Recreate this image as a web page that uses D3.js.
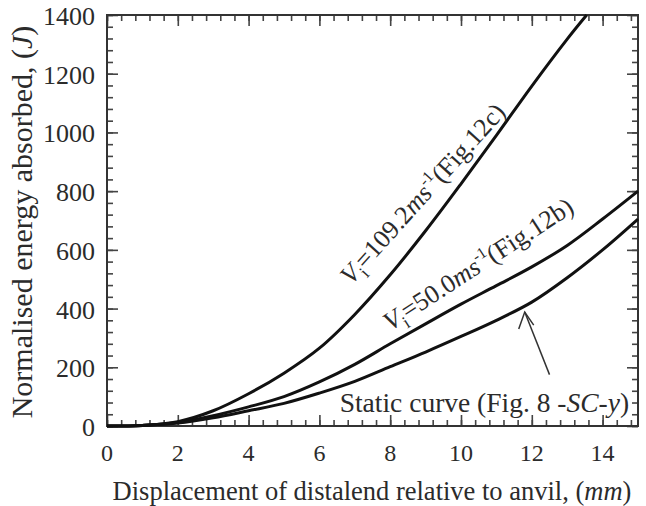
<!DOCTYPE html>
<html>
<head>
<meta charset="utf-8">
<script src="https://cdn.jsdelivr.net/npm/d3@7"></script>
<style>
  body { margin: 0; background: #fff; }
  svg text { font-family: "Liberation Serif", "Times New Roman", serif; fill: #2b2b2b; }
</style>
</head>
<body>
<div id="vis"></div>
<script>
// displacement (mm) and energy (J)
var dispFast = [0, 1, 2, 3, 4, 5, 6, 7, 8, 9, 10, 11, 12, 13, 13.55];
var energyFast = [0, 2, 15, 52, 110, 180, 265, 380, 515, 665, 825, 990, 1158, 1318, 1400];

var dispMid = [0, 1, 2, 3, 4, 5, 6, 7, 8, 9, 10, 11, 12, 13, 14, 15];
var energyMid = [0, 2, 12, 35, 65, 100, 150, 210, 280, 348, 415, 478, 542, 615, 705, 800];

var dispStatic = [0, 1, 2, 3, 4, 5, 6, 7, 8, 9, 10, 11, 12, 13, 14, 15];
var energyStatic = [0, 2, 10, 28, 52, 77, 112, 152, 202, 252, 305, 360, 422, 505, 600, 705];

var xTicks = [0, 2, 4, 6, 8, 10, 12, 14];
var yTicks = [0, 200, 400, 600, 800, 1000, 1200, 1400];

var width = 646, height = 506;
var margin = { top: 15, left: 107, bottom: 80, right: 8 };
var w = width - margin.left - margin.right;
var h = height - margin.top - margin.bottom;

var svg = d3.select('#vis').append('svg')
  .attr('width', width)
  .attr('height', height);

var g = svg.append('g')
  .attr('transform', 'translate(' + margin.left + ',' + margin.top + ')');

var x = d3.scaleLinear().domain([0, 15]).range([0, w]);
var y = d3.scaleLinear().domain([0, 1400]).range([h, 0]);

// minor ticks every 0.4 mm / 40 J, major every 2 mm / 200 J
var xMinor = d3.range(0, 15.001, 0.4);
var yMinor = d3.range(0, 1400.001, 40);

function tickAxis(axisFn, scale, ticks, size) {
  return axisFn(scale).tickValues(ticks).tickSize(size).tickFormat('');
}

// inward pointing ticks on all four sides
g.append('g').attr('transform', 'translate(0,' + h + ')')
  .call(tickAxis(d3.axisTop, x, xMinor, 6));
g.append('g').attr('transform', 'translate(0,' + h + ')')
  .call(tickAxis(d3.axisTop, x, xTicks, 11));
g.append('g')
  .call(tickAxis(d3.axisBottom, x, xMinor, 6));
g.append('g')
  .call(tickAxis(d3.axisBottom, x, xTicks, 11));
g.append('g')
  .call(tickAxis(d3.axisRight, y, yMinor, 6));
g.append('g')
  .call(tickAxis(d3.axisRight, y, yTicks, 11));
g.append('g').attr('transform', 'translate(' + w + ',0)')
  .call(tickAxis(d3.axisLeft, y, yMinor, 6));
g.append('g').attr('transform', 'translate(' + w + ',0)')
  .call(tickAxis(d3.axisLeft, y, yTicks, 11));

g.selectAll('.domain').remove();
g.selectAll('.tick line').attr('stroke', '#444').attr('stroke-width', 1.6);

// frame
g.append('rect')
  .attr('width', w).attr('height', h)
  .attr('fill', 'none')
  .attr('stroke', '#333')
  .attr('stroke-width', 2);

// tick labels
g.selectAll('.xlab').data(xTicks).enter().append('text')
  .attr('class', 'xlab')
  .attr('x', function (d) { return x(d); })
  .attr('y', h + 35)
  .attr('text-anchor', 'middle')
  .style('font-size', '24px')
  .text(function (d) { return d; });

g.selectAll('.ylab').data(yTicks).enter().append('text')
  .attr('class', 'ylab')
  .attr('x', -12)
  .attr('y', function (d) { return y(d) + 10; })
  .attr('text-anchor', 'end')
  .style('font-size', '26px')
  .text(function (d) { return d; });

// axis titles
var xTitle = svg.append('text')
  .attr('x', 372)
  .attr('y', 500)
  .attr('text-anchor', 'middle')
  .style('font-size', '26.5px');
xTitle.append('tspan').text('Displacement of distalend relative to anvil, (');
xTitle.append('tspan').style('font-style', 'italic').text('mm');
xTitle.append('tspan').text(')');

var yTitle = svg.append('text')
  .attr('transform', 'translate(32,' + 222 + ') rotate(-90)')
  .attr('text-anchor', 'middle')
  .style('font-size', '30px');
yTitle.append('tspan').text('Normalised energy absorbed, (');
yTitle.append('tspan').style('font-style', 'italic').text('J');
yTitle.append('tspan').text(')');

// curves
var line = d3.line()
  .x(function (d) { return x(d[0]); })
  .y(function (d) { return y(d[1]); })
  .curve(d3.curveCatmullRom.alpha(0.5));

var series = [
  d3.zip(dispFast, energyFast),
  d3.zip(dispMid, energyMid),
  d3.zip(dispStatic, energyStatic)
];

g.selectAll('.curve').data(series).enter().append('path')
  .attr('class', 'curve')
  .attr('d', line)
  .attr('fill', 'none')
  .attr('stroke', '#111')
  .attr('stroke-width', 3);

// rotated curve labels
function speedLabel(px, py, angle, speed, fig) {
  var t = g.append('text')
    .attr('transform', 'translate(' + px + ',' + py + ') rotate(' + angle + ')')
    .style('font-size', '26px');
  t.append('tspan').style('font-style', 'italic').text('V');
  t.append('tspan').attr('dy', 7).style('font-size', '18px').text('i');
  t.append('tspan').attr('dy', -7).text('=' + speed);
  t.append('tspan').style('font-style', 'italic').text('ms');
  t.append('tspan').attr('dy', -11).style('font-size', '16px').text('-1');
  t.append('tspan').attr('dy', 11).text('(Fig.' + fig + ')');
}

speedLabel(x(6.9), y(478), -48, '109.2', '12c');
speedLabel(x(8.0), y(322), -33, '50.0', '12b');

var stat = g.append('text')
  .attr('x', x(14.75))
  .attr('y', y(48))
  .attr('text-anchor', 'end')
  .style('font-size', '27.5px');
stat.append('tspan').text('Static curve (Fig. 8 -');
stat.append('tspan').style('font-style', 'italic').text('SC-y');
stat.append('tspan').text(')');

// arrow pointing at the static curve
var ax1 = x(12.5), ay1 = y(175), ax2 = x(11.8), ay2 = y(388);
g.append('line')
  .attr('x1', ax1).attr('y1', ay1)
  .attr('x2', ax2).attr('y2', ay2)
  .attr('stroke', '#333').attr('stroke-width', 1.5);
g.append('path')
  .attr('d', 'M' + (ax2 - 6) + ',' + (ay2 + 17) + 'L' + ax2 + ',' + ay2 +
    'L' + (ax2 + 9) + ',' + (ay2 + 13))
  .attr('fill', 'none')
  .attr('stroke', '#333').attr('stroke-width', 1.5);
</script>
</body>
</html>
